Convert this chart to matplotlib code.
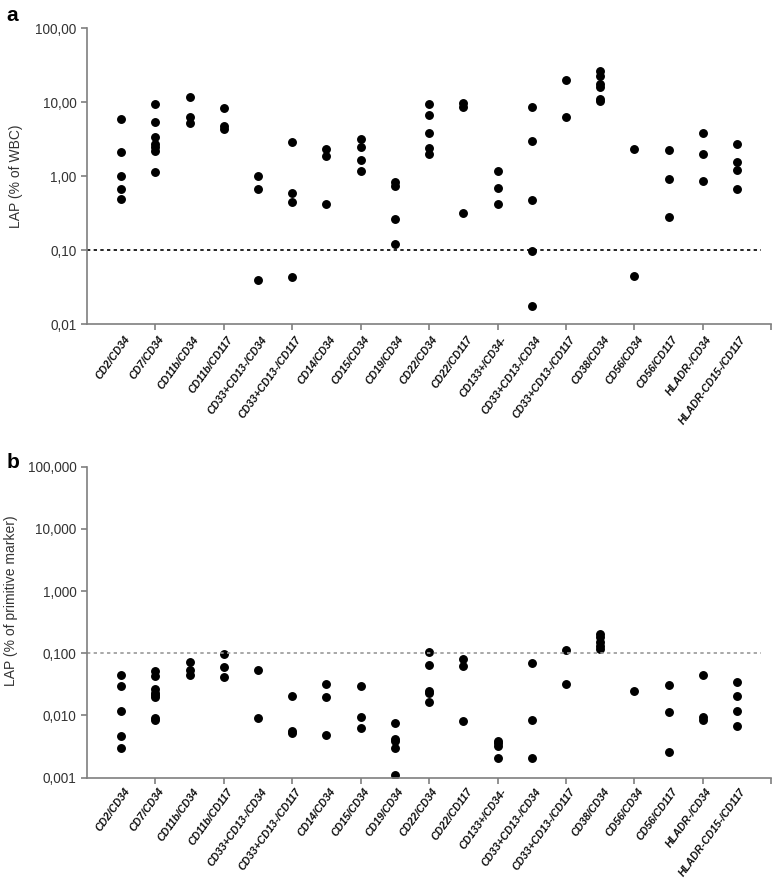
import matplotlib
matplotlib.use("Agg")
import matplotlib.pyplot as plt
from matplotlib.ticker import FixedLocator, FuncFormatter, NullLocator

plt.rcParams['font.family'] = ['Liberation Sans', 'DejaVu Sans']

categories = ["CD2/CD34", "CD7/CD34", "CD11b/CD34", "CD11b/CD117",
              "CD33+CD13-/CD34", "CD33+CD13-/CD117", "CD14/CD34", "CD15/CD34",
              "CD19/CD34", "CD22/CD34", "CD22/CD117", "CD133+/CD34-",
              "CD33+CD13-/CD34", "CD33+CD13-/CD117", "CD38/CD34", "CD56/CD34",
              "CD56/CD117", "HLADR-/CD34", "HLADR-CD15-/CD117"]

# panel a: LAP in % of WBC
wbc = [
    [6.0, 2.1, 1.0, 0.68, 0.50],
    [9.6, 5.5, 3.4, 2.7, 2.5, 2.2, 1.15],
    [11.7, 6.3, 5.2],
    [8.4, 4.85, 4.3],
    [1.0, 0.68, 0.040],
    [2.95, 0.59, 0.45, 0.044],
    [2.33, 1.9, 0.42],
    [3.15, 2.48, 1.66, 1.17],
    [0.83, 0.75, 0.265, 0.122],
    [9.5, 6.7, 3.9, 2.4, 2.0],
    [9.9, 8.6, 0.32],
    [1.17, 0.70, 0.42],
    [8.6, 3.0, 0.48, 0.097, 0.0177],
    [20.3, 6.4],
    [26.7, 23.0, 17.7, 16.3, 11.1, 10.5],
    [2.37, 0.045],
    [2.27, 0.93, 0.28],
    [3.9, 2.0, 0.86],
    [2.74, 1.55, 1.23, 0.68],
]

# panel b: LAP in % of primitive marker
prim = [
    [0.044, 0.030, 0.012, 0.0047, 0.0030],
    [0.0526, 0.043, 0.0263, 0.0233, 0.0214, 0.0196, 0.0092, 0.0084],
    [0.0716, 0.0546, 0.0454],
    [0.0988, 0.060, 0.0417],
    [0.0546, 0.0090],
    [0.0209, 0.0057, 0.0052],
    [0.0318, 0.020, 0.0049],
    [0.0295, 0.0096, 0.0064],
    [0.0077, 0.0042, 0.0039, 0.0030, 0.0011],
    [0.105, 0.064, 0.0245, 0.0228, 0.0163],
    [0.081, 0.0625, 0.0081],
    [0.0039, 0.0036, 0.0032, 0.0021],
    [0.070, 0.0085, 0.0021],
    [0.115, 0.0325],
    [0.207, 0.183, 0.150, 0.130, 0.117],
    [0.0248],
    [0.0306, 0.0114, 0.0026],
    [0.0443, 0.0093, 0.0085],
    [0.035, 0.0209, 0.0117, 0.0069],
]

threshold = 0.1
ticks_a = [0.01, 0.1, 1, 10, 100]
ticks_b = [0.001, 0.01, 0.1, 1, 10, 100]

fig = plt.figure(figsize=(7.76, 8.88), dpi=100)
ax_a = fig.add_axes([0.112, 0.635, 0.882, 0.333])
ax_b = fig.add_axes([0.112, 0.1242, 0.882, 0.3503])


def draw(ax, data, ticks, ndec, ylabel, line_color):
    for i, vals in enumerate(data):
        ax.plot([i + 1] * len(vals), vals, 'o', color='black', markersize=5.4,
                linestyle='none')
    ax.set_yscale('log')
    ax.set_ylim(ticks[0], ticks[-1])
    ax.set_xlim(0, len(data) + 1)
    ax.axhline(threshold, xmin=0, xmax=0.985, color=line_color, linestyle=(0, (2, 2)),
               linewidth=1.2)
    ax.yaxis.set_major_locator(FixedLocator(ticks))
    ax.yaxis.set_minor_locator(NullLocator())
    fmt = '{:.%df}' % ndec
    ax.yaxis.set_major_formatter(FuncFormatter(lambda v, p: fmt.format(v).replace('.', ',')))
    ax.set_xticks(range(2, len(data) + 2, 2))
    ax.set_xticklabels([])
    for i, name in enumerate(categories):
        ax.text(i + 1 + 0.08, ticks[0] / 1.38, name, rotation=54,
                ha='right', va='top', fontsize=7.6, fontweight='bold',
                fontstyle='italic', rotation_mode='anchor', color='#111111')
    for s in ['top', 'right']:
        ax.spines[s].set_visible(False)
    for s in ['left', 'bottom']:
        ax.spines[s].set_color('#7f7f7f')
        ax.spines[s].set_linewidth(1.2)
    ax.tick_params(axis='both', colors='#7f7f7f', length=4, width=1.2, labelsize=9.8,
                   labelcolor='#333333')
    ax.set_ylabel(ylabel, fontsize=10, color='#333333')


draw(ax_a, wbc, ticks_a, 2, 'LAP (% of WBC)', 'black')
draw(ax_b, prim, ticks_b, 3, 'LAP (% of primitive marker)', '#999999')
ax_a.yaxis.set_label_coords(-0.094, 0.5)
ax_b.yaxis.set_label_coords(-0.1, 0.57)

fig.text(0.008, 0.982, 'a', fontsize=15, fontweight='bold', va='center')
fig.text(0.008, 0.479, 'b', fontsize=15, fontweight='bold', va='center')

fig.savefig('out.png', dpi=100)
